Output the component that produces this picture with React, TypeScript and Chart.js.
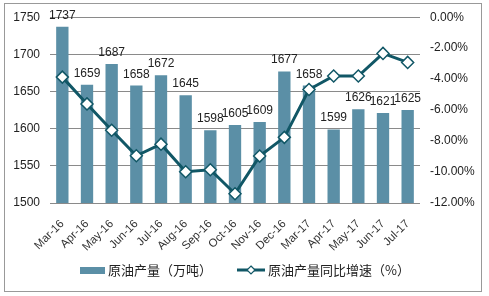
import React, { useEffect, useRef } from "react";
import Chart from "chart.js/auto";

const categories = ["Mar-16","Apr-16","May-16","Jun-16","Jul-16","Aug-16","Sep-16","Oct-16","Nov-16","Dec-16","Mar-17","Apr-17","May-17","Jun-17","Jul-17"];
const output = [1737,1659,1687,1658,1672,1645,1598,1605,1609,1677,1658,1599,1626,1621,1625];
const growth = [-3.87,-5.6,-7.3,-8.95,-8.2,-9.98,-9.85,-11.4,-8.97,-7.76,-4.67,-3.8,-3.8,-2.34,-2.92];
const barLabel = "原油产量（万吨）";
const lineLabel = "原油产量同比增速（%）";

const BAR_COLOR = "#5B8FA6";
const LINE_COLOR = "#115766";
const FONT = "'Liberation Sans', Arial, sans-serif";
const CJK = "'Noto Sans CJK SC', 'Liberation Sans', sans-serif";

export default function App() {
  const ref = useRef<HTMLCanvasElement | null>(null);
  useEffect(() => {
    const canvas = ref.current;
    if (!canvas) return;
    const extras = {
      id: "extras",
      afterDatasetsDraw(chart: any) {
        const ctx = chart.ctx;
        const meta = chart.getDatasetMeta(1);
        ctx.save();
        ctx.font = `12px ${FONT}`;
        ctx.fillStyle = "#222";
        ctx.textAlign = "center";
        ctx.textBaseline = "alphabetic";
        meta.data.forEach((el: any, i: number) => {
          ctx.fillText(String(output[i]), el.x, el.y - 8);
        });
        ctx.restore();
      },
      afterDraw(chart: any) {
        const ctx = chart.ctx;
        ctx.save();
        ctx.strokeStyle = "#999";
        ctx.lineWidth = 1;
        ctx.strokeRect(4.5, 3.5, 477, 288);
        const ly = 270;
        ctx.fillStyle = BAR_COLOR;
        ctx.fillRect(80, 267, 25, 7);
        ctx.font = `13px ${CJK}`;
        ctx.fillStyle = "#222";
        ctx.textBaseline = "middle";
        ctx.textAlign = "left";
        ctx.fillText(barLabel, 108, ly);
        ctx.strokeStyle = LINE_COLOR;
        ctx.lineWidth = 3;
        ctx.beginPath();
        ctx.moveTo(237, ly);
        ctx.lineTo(265, ly);
        ctx.stroke();
        ctx.beginPath();
        ctx.moveTo(251, ly - 4);
        ctx.lineTo(255, ly);
        ctx.lineTo(251, ly + 4);
        ctx.lineTo(247, ly);
        ctx.closePath();
        ctx.fillStyle = "#fff";
        ctx.fill();
        ctx.lineWidth = 1.2;
        ctx.stroke();
        ctx.fillStyle = "#222";
        ctx.fillText(lineLabel, 268, ly);
        ctx.restore();
      },
    };
    const chart = new Chart(canvas, {
      type: "bar",
      data: {
        labels: categories,
        datasets: [
          {
            type: "line",
            label: lineLabel,
            data: growth,
            yAxisID: "y1",
            borderColor: LINE_COLOR,
            borderWidth: 3,
            pointStyle: "rectRot",
            pointRadius: 6,
            pointBackgroundColor: "#fff",
            pointBorderColor: LINE_COLOR,
            pointBorderWidth: 1.5,
            tension: 0,
            order: 1,
          } as any,
          {
            type: "bar",
            label: barLabel,
            data: output,
            yAxisID: "y",
            backgroundColor: BAR_COLOR,
            barPercentage: 0.5,
            categoryPercentage: 1,
            order: 2,
          },
        ],
      },
      options: {
        responsive: false,
        animation: false,
        layout: { padding: { top: 17, right: 0, left: 0, bottom: 0 } },
        plugins: { legend: { display: false }, tooltip: { enabled: false } },
        scales: {
          x: {
            grid: { display: false },
            border: { display: false },
            ticks: {
              minRotation: 45,
              maxRotation: 45,
              autoSkip: false,
              font: { size: 11.5, family: FONT },
              color: "#333",
              padding: 6,
            },
            afterFit(s: any) { s.height = 93; },
          },
          y: {
            position: "left",
            min: 1500,
            max: 1750,
            ticks: {
              stepSize: 50,
              font: { size: 12, family: FONT },
              color: "#222",
              padding: 10,
              callback: (v: any) => String(v),
            },
            grid: { color: "#8a8a8a", drawTicks: false, lineWidth: 1 },
            border: { display: false },
            afterFit(s: any) { s.width = 50; },
          },
          y1: {
            position: "right",
            min: -12,
            max: 0,
            ticks: {
              stepSize: 2,
              font: { size: 12, family: FONT },
              color: "#222",
              padding: 10,
              callback: (v: any) => Number(v).toFixed(2) + "%",
            },
            grid: { display: false, drawTicks: false },
            border: { display: false },
            afterFit(s: any) { s.width = 69; },
          },
        },
      } as any,
      plugins: [extras],
    });
    return () => chart.destroy();
  }, []);
  return (
    <div style={{ position: "absolute", left: 0, top: 0, width: 489, height: 296, background: "#fff" }}>
      <canvas ref={ref} width={489} height={296} style={{ display: "block" }} />
    </div>
  );
}
